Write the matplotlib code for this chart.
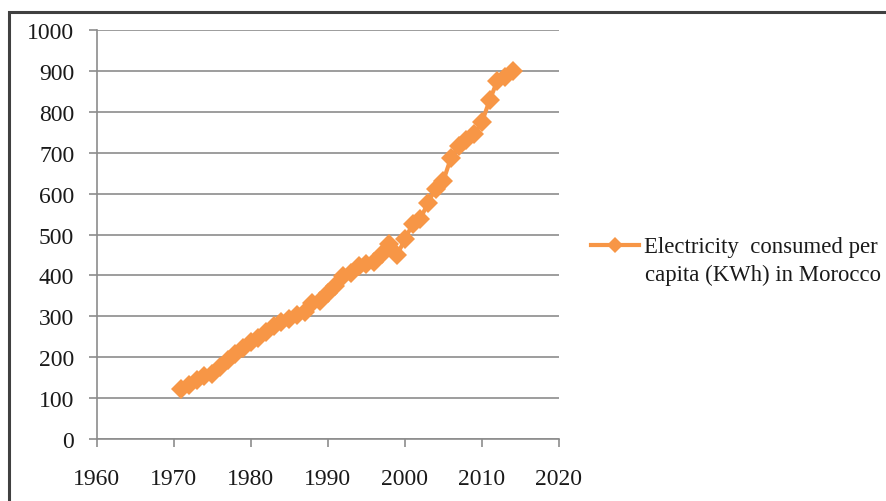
import matplotlib.pyplot as plt
from matplotlib.patches import Rectangle

# electricity consumption per capita in Morocco, kWh
years = [1971, 1972, 1973, 1974, 1975, 1976, 1977, 1978, 1979, 1980,
         1981, 1982, 1983, 1984, 1985, 1986, 1987, 1988, 1989, 1990,
         1991, 1992, 1993, 1994, 1995, 1996, 1997, 1998, 1999, 2000,
         2001, 2002, 2003, 2004, 2005, 2006, 2007, 2008, 2009, 2010,
         2011, 2012, 2013, 2014]
kwh = [122, 132, 145, 153, 160, 175, 193, 208, 222, 236,
       248, 262, 277, 285, 293, 303, 310, 333, 338, 358,
       375, 398, 405, 422, 428, 432, 452, 478, 450, 488,
       525, 537, 578, 612, 632, 688, 717, 730, 745, 775,
       828, 876, 884, 901]
x_ticks = [1960, 1970, 1980, 1990, 2000, 2010, 2020]
y_ticks = [0, 100, 200, 300, 400, 500, 600, 700, 800, 900, 1000]
label_line1 = 'Electricity  consumed per'
label_line2 = 'capita (KWh) in Morocco'

plt.rcParams['font.family'] = ['Liberation Serif', 'DejaVu Serif']

fig = plt.figure(figsize=(8.87, 5.02), dpi=100, facecolor='white')
ax = fig.add_axes([0.1088, 0.1235, 0.5214, 0.8147])

orange = '#F79646'
grid_grey = '#8C8C8C'
text_col = '#1a1a1a'
fs = 17
fs_legend = 16.4

ax.plot(years, kwh, color=orange, linewidth=3, marker='D', markersize=10.5,
        markeredgewidth=0, label=label_line1, zorder=3)

ax.set_xlim(1960, 2020)
ax.set_ylim(0, 1000)
ax.set_xticks(x_ticks)
ax.set_yticks(y_ticks)
ax.grid(axis='y', color=grid_grey, linewidth=1.2)
ax.set_axisbelow(True)

for side in ['top', 'right']:
    ax.spines[side].set_visible(False)
for side in ['left', 'bottom']:
    ax.spines[side].set_color(grid_grey)
    ax.spines[side].set_linewidth(1.2)
ax.tick_params(axis='both', direction='out', length=6, width=1.2,
               color=grid_grey, labelsize=fs, labelcolor=text_col)
ax.tick_params(axis='y', pad=10)
ax.tick_params(axis='x', pad=15)

leg = ax.legend(loc='center left', bbox_to_anchor=(0.666, 0.506),
                bbox_transform=fig.transFigure, frameon=False, fontsize=fs_legend,
                handlelength=2.13, handletextpad=0.22, borderaxespad=0,
                borderpad=0, markerscale=0.75, labelcolor=text_col)
# second line of the legend entry sits under the first
fig.text(0.727, 0.452, label_line2, fontsize=fs_legend, color=text_col,
         ha='left', va='center')

# outer frame of the chart area
fig.patches.append(Rectangle((0.0101, -0.5), 1.5, 1.4741, transform=fig.transFigure,
                             fill=False, edgecolor='#404040', linewidth=2.2))

fig.savefig('out.png', dpi=100, facecolor='white')
